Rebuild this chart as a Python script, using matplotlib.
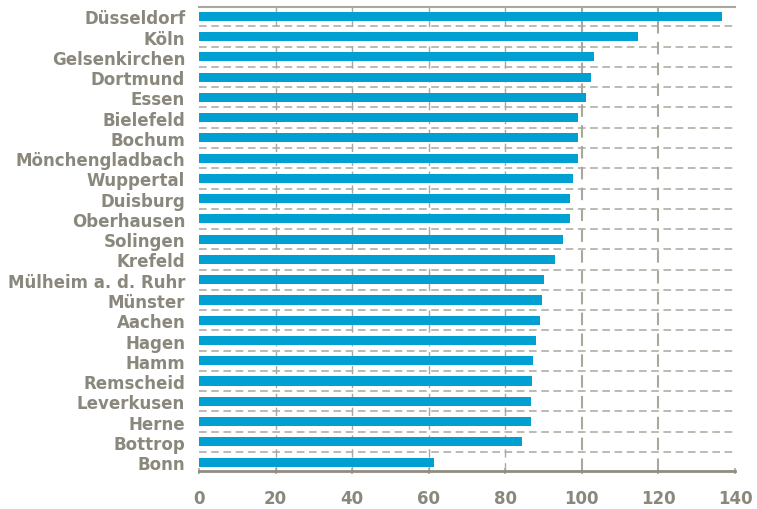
import matplotlib
matplotlib.use("Agg")
import matplotlib.pyplot as plt

cities = ["Düsseldorf", "Köln", "Gelsenkirchen", "Dortmund", "Essen", "Bielefeld",
          "Bochum", "Mönchengladbach", "Wuppertal", "Duisburg", "Oberhausen",
          "Solingen", "Krefeld", "Mülheim a. d. Ruhr", "Münster", "Aachen", "Hagen",
          "Hamm", "Remscheid", "Leverkusen", "Herne", "Bottrop", "Bonn"]
values = [136.6, 114.6, 103.2, 102.5, 101.0, 99.1, 99.1, 99.1, 97.7, 97.0, 97.0,
          95.1, 93.0, 90.2, 89.7, 89.1, 88.0, 87.3, 87.0, 86.8, 86.8, 84.4, 61.4]
xticks = [0, 20, 40, 60, 80, 100, 120, 140]

bar_color = "#00a0d2"
grid_color = "#aaa79d"
text_color = "#8a887c"

fig = plt.figure(figsize=(7.57, 5.10), dpi=100)
ax = fig.add_axes([0.263, 0.0745, 0.708, 0.9095])

n = len(cities)
ypos = list(range(n))
ax.barh(ypos, values, height=0.45, color=bar_color, zorder=3)

ax.set_xlim(0, 140)
ax.set_ylim(n - 1 + 0.44, -0.45)

for i in range(n - 1):
    ax.axhline(i + 0.5, color=grid_color, lw=1.1, ls=(0, (5, 3)), zorder=1)
for x in xticks[1:-1]:
    lw = 1.0 if x < 100 else 1.5
    ax.axvline(x, color=grid_color, lw=lw, ls=(0, (6, 4)), zorder=1)

ax.set_yticks(ypos)
ax.set_yticklabels(cities, fontsize=12, fontweight="bold", color=text_color,
                   family="DejaVu Sans")
ax.set_xticks(xticks)
ax.set_xticklabels([str(t) for t in xticks], fontsize=12, fontweight="bold",
                   color=text_color, family="DejaVu Sans")
ax.tick_params(axis="y", length=0, pad=10)
ax.tick_params(axis="x", length=4, width=1.2, color=grid_color, direction="inout", pad=11)

for s in ["left", "right"]:
    ax.spines[s].set_visible(False)
ax.spines["top"].set_color(grid_color)
ax.spines["top"].set_linewidth(1.5)
ax.spines["bottom"].set_color("#8f8c80")
ax.spines["bottom"].set_linewidth(2)

fig.savefig("out.png", dpi=100)
